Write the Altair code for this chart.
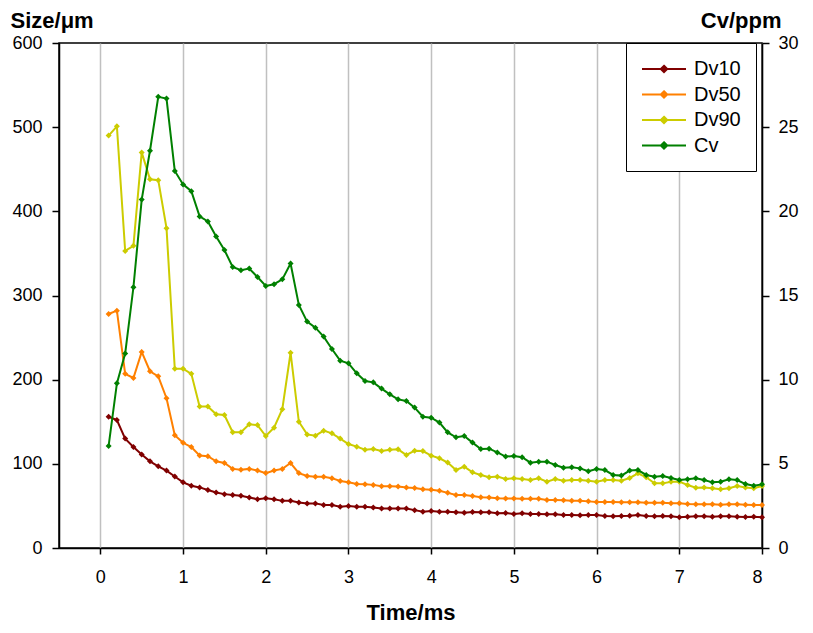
import altair as alt
import pandas as pd

time_ms = [0.1, 0.2, 0.3, 0.4, 0.5, 0.6, 0.7, 0.8, 0.9, 1.0,
           1.1, 1.2, 1.3, 1.4, 1.5, 1.6, 1.7, 1.8, 1.9, 2.0,
           2.1, 2.2, 2.3, 2.4, 2.5, 2.6, 2.7, 2.8, 2.9, 3.0,
           3.1, 3.2, 3.3, 3.4, 3.5, 3.6, 3.7, 3.8, 3.9, 4.0,
           4.1, 4.2, 4.3, 4.4, 4.5, 4.6, 4.7, 4.8, 4.9, 5.0,
           5.1, 5.2, 5.3, 5.4, 5.5, 5.6, 5.7, 5.8, 5.9, 6.0,
           6.1, 6.2, 6.3, 6.4, 6.5, 6.6, 6.7, 6.8, 6.9, 7.0,
           7.1, 7.2, 7.3, 7.4, 7.5, 7.6, 7.7, 7.8, 7.9, 8.0]

dv10 = [156, 152, 130, 120, 111, 103, 97, 92, 85, 78,
        74, 72, 69, 66, 64, 63, 62, 60, 58, 59,
        58, 56, 56, 54, 53, 53, 51, 51, 49, 50,
        49, 49, 48, 47, 47, 47, 47, 45, 43, 44,
        43, 43, 42.4, 42, 42.8, 42.4, 42.4, 41.2, 41.6, 40.4,
        41.2, 40.4, 40.4, 40, 40, 39.2, 39.2, 38.8, 39.2, 39.2,
        38, 37.6, 38, 38.4, 39.2, 38, 37.6, 38, 37.6, 36.4,
        37.2, 37.6, 37.6, 37.2, 37.6, 37.6, 37.2, 36.8, 37.2, 36.4]

dv50 = [278, 282, 207, 202, 233, 210, 204, 178, 134, 125,
        120, 110, 109, 103, 101, 94, 93, 94, 92, 89,
        92, 94, 101, 89, 85.5, 84.7, 84.7, 83, 79.6, 78,
        76, 75.6, 75, 73.3, 73.3, 73, 72, 71.3, 69.7, 69.3,
        68, 65.5, 63, 63, 61.8, 60.2, 60, 59, 58.8, 58.8,
        58.4, 58.4, 58.4, 57, 57, 56.6, 56.2, 56.2, 55.4, 54.7,
        54.7, 54.7, 54.3, 54.3, 54.3, 53.9, 53.9, 53.9, 53.1, 53.1,
        52.3, 51.9, 51.9, 51.9, 51.5, 51.9, 51.9, 51.5, 51.1, 51.1]

dv90 = [490, 501, 353, 359, 470, 438, 437, 380, 213, 213,
        207, 168, 168, 159, 158, 137.5, 137.5, 147, 146, 133,
        143, 165, 232, 150, 135, 133.5, 139.4, 136.2, 130, 123.6,
        120.4, 116.8, 117.6, 115.2, 116.8, 117.2, 110.5, 115.6, 115.2, 109.7,
        106.6, 101.6, 92.7, 96.6, 89.9, 86.7, 84, 84.8, 82, 82.8,
        82, 80.8, 82.8, 78.8, 82, 80, 80.8, 80.8, 80, 78.8,
        80.8, 80.8, 80, 83.2, 88.7, 84, 76.8, 76.8, 78.8, 78.8,
        74.8, 71.7, 72, 70.9, 69.7, 70.9, 73.7, 72, 70.9, 73.7]

cv = [6.06, 9.78, 11.55, 15.49, 20.7, 23.6, 26.8, 26.7, 22.4, 21.6,
      21.2, 19.7, 19.4, 18.5, 17.7, 16.7, 16.5, 16.6, 16.1, 15.57,
      15.67, 15.96, 16.9, 14.44, 13.45, 13.09, 12.56, 11.82, 11.13, 10.97,
      10.38, 9.92, 9.84, 9.47, 9.13, 8.83, 8.73, 8.34, 7.80, 7.74,
      7.45, 6.87, 6.58, 6.65, 6.26, 5.88, 5.90, 5.68, 5.43, 5.47,
      5.39, 5.07, 5.13, 5.13, 4.93, 4.77, 4.79, 4.73, 4.56, 4.69,
      4.63, 4.34, 4.30, 4.60, 4.63, 4.34, 4.24, 4.28, 4.16, 4.04,
      4.08, 4.14, 4.04, 3.90, 3.94, 4.08, 4.04, 3.80, 3.70, 3.78]

series_names = ["Dv10", "Dv50", "Dv90", "Cv"]
series_colors = ["#800000", "#FF8000", "#CCCC00", "#008000"]
x_ticks = [0, 1, 2, 3, 4, 5, 6, 7, 8]
size_ticks = [0, 100, 200, 300, 400, 500, 600]
cv_ticks = [0, 5, 10, 15, 20, 25, 30]

rows = []
for name, vals in (("Dv10", dv10), ("Dv50", dv50), ("Dv90", dv90)):
    for t, v in zip(time_ms, vals):
        rows.append({"time": t, "value": v, "series": name})
df_size = pd.DataFrame(rows)
df_cv = pd.DataFrame({"time": time_ms, "value": cv, "series": ["Cv"] * len(cv)})

FONT = "Liberation Sans, Arial, sans-serif"

# legend symbol: a 44px line with a small filled diamond (path scaled by sqrt(size)/2 = 10)
legend = alt.Legend(
    title=None, orient="none", legendX=567, legendY=0,
    strokeColor="black", fillColor="white", padding=15, cornerRadius=0,
    labelFontSize=20, labelFont=FONT, labelColor="black", labelOffset=19,
    symbolType="M-2.2,0L2.2,0M0,-0.32L0.32,0L0,0.32L-0.32,0ZM0,-0.16L0.16,0L0,0.16L-0.16,0Z",
    symbolSize=400, symbolStrokeWidth=2, symbolOffset=12, rowPadding=4.5,
)

color = alt.Color("series:N", scale=alt.Scale(domain=series_names, range=series_colors),
                  legend=legend)

x_enc = alt.X("time:Q", scale=alt.Scale(domain=[-0.5, 8], nice=False, zero=False),
              axis=alt.Axis(values=x_ticks, title="Time/ms", grid=True, gridColor="#C0C0C0",
                            gridWidth=1.5, tickSize=6, labelPadding=14,
                            titleX=351.5, titleY=71, titleAlign="center",
                            titleBaseline="alphabetic", titleFontSize=22))

point = alt.OverlayMarkDef(shape="diamond", size=36, filled=True)

left = alt.Chart(df_size).mark_line(strokeWidth=2, point=point).encode(
    x=x_enc,
    y=alt.Y("value:Q", scale=alt.Scale(domain=[0, 600], nice=False),
            axis=alt.Axis(orient="left", values=size_ticks, title="Size/μm", grid=False,
                          tickSize=7, labelPadding=10, titleAngle=0, titleX=-49, titleY=-16,
                          titleAlign="left", titleBaseline="alphabetic", titleFontSize=22)),
    color=color,
    order="time:Q",
)

right = alt.Chart(df_cv).mark_line(strokeWidth=2, point=point).encode(
    x=x_enc,
    y=alt.Y("value:Q", scale=alt.Scale(domain=[0, 30], nice=False),
            axis=alt.Axis(orient="right", values=cv_ticks, title="Cv/ppm", grid=False,
                          tickSize=7, labelPadding=9, titleAngle=0, titleX=19, titleY=-16,
                          titleAlign="right", titleBaseline="alphabetic", titleFontSize=22)),
    color=color,
    order="time:Q",
)

chart = alt.layer(left, right).resolve_scale(y="independent").properties(
    width=703, height=505,
    padding={"left": 51, "top": 35, "right": 43, "bottom": 77},
    autosize=alt.AutoSizeParams(type="none"),
).configure(font=FONT).configure_axis(
    domainColor="black", domainWidth=1.5, tickColor="black", tickWidth=1.5,
    labelFontSize=18, labelFont=FONT, labelColor="black",
    titleFontSize=23, titleFont=FONT, titleFontWeight="bold", titleColor="black",
).configure_view(stroke="black", strokeWidth=1.5)

chart.save("out.html", embed_options={"renderer": "svg", "actions": False})
